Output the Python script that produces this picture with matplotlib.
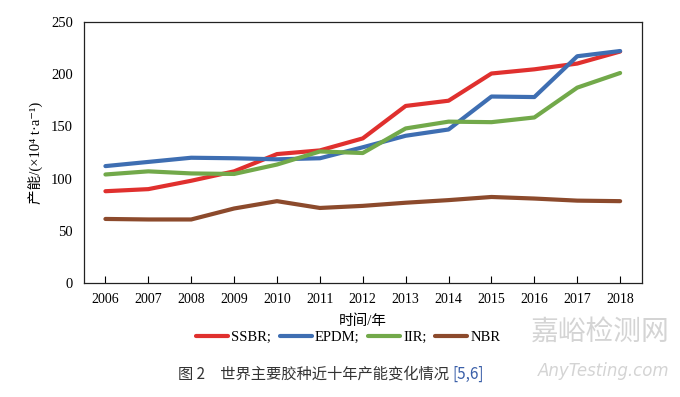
import matplotlib.pyplot as plt
import numpy as np

plt.rcParams['font.family'] = ['Liberation Serif', 'Noto Sans CJK SC', 'DejaVu Sans']
plt.rcParams['axes.unicode_minus'] = False

years = ['2006', '2007', '2008', '2009', '2010', '2011', '2012',
         '2013', '2014', '2015', '2016', '2017', '2018']
ssbr = [88, 90, 98, 107, 123.5, 127, 138.5, 169.5, 174.5, 200.5, 204.5, 210, 221.5]
epdm = [112, 116, 120, 119.5, 118.5, 119.5, 130, 141, 147, 178.5, 178, 217, 222]
iir = [104, 107, 105, 104.5, 113.5, 126, 124.5, 148, 154.5, 154, 158.5, 187, 201]
nbr = [61.5, 61, 61, 71.5, 78.5, 72, 74, 77, 79.5, 82.5, 81, 79, 78.5]

series = [('SSBR;', ssbr, '#E0302E'), ('EPDM;', epdm, '#3E6EB2'),
          ('IIR;', iir, '#72A94A'), ('NBR', nbr, '#8C4A2C')]

fig = plt.figure(figsize=(6.8, 3.97), dpi=100)
ax = fig.add_axes([0.1235, 0.2864, 0.82, 0.6589])

x = np.arange(len(years))
for name, vals, c in series:
    ax.plot(x, vals, color=c, lw=3, label=name, solid_capstyle='round')

ax.set_xlim(-0.5, len(years) - 0.5)
ax.set_ylim(0, 250)
ax.set_yticks(range(0, 251, 50))
ax.set_xticks(x)
ax.set_xticklabels(years)
ax.tick_params(axis='x', direction='in', length=5, width=0.8, labelsize=10, pad=7)
ax.tick_params(axis='y', length=0, labelsize=10.5, pad=8)
for s in ax.spines.values():
    s.set_linewidth(0.9)
    s.set_color('#222222')

ax.set_xlabel('时间/年', fontsize=10.5, labelpad=6)
ax.set_ylabel('产能/(×10⁴ t·a⁻¹)', fontsize=10.5, labelpad=6)

fig.legend(loc='center', bbox_to_anchor=(0.512, 0.151), ncol=4, frameon=False,
           fontsize=10.5, handlelength=2.2, handletextpad=0.2, columnspacing=0.6)

cap = fig.text(0.262, 0.058, '图 2　世界主要胶种近十年产能变化情况 ', fontsize=11,
               family=['Noto Sans CJK SC', 'DejaVu Sans'], color='#333333', va='center')
ax.annotate('[5,6]', xy=(1, 0.5), xycoords=cap, va='center', ha='left',
            fontsize=11, color='#3A5FA8', family=['Noto Sans CJK SC', 'DejaVu Sans'],
            annotation_clip=False)

fig.text(0.985, 0.165, '嘉峪检测网', fontsize=20, color='#d4d4d4', ha='right', va='center',
         family=['Noto Sans CJK SC'])
fig.text(0.985, 0.065, 'AnyTesting.com', fontsize=12, color='#d4d4d4', ha='right', va='center',
         family=['DejaVu Sans'], style='italic')

fig.savefig('out.png', dpi=100)
